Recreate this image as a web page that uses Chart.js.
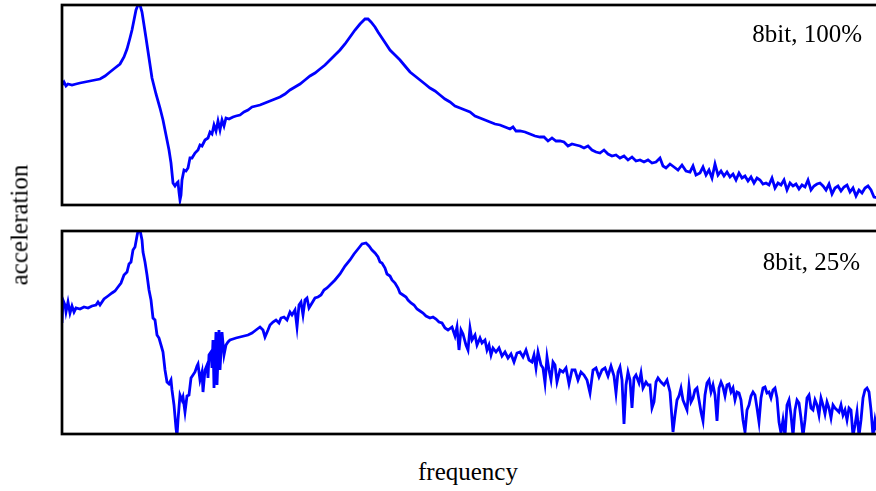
<!DOCTYPE html>
<html>
<head>
<meta charset="utf-8">
<script src="https://cdn.jsdelivr.net/npm/chart.js@4"></script>
<style>
  html, body { margin: 0; padding: 0; background: #fff; overflow: hidden; }
  body { width: 876px; height: 491px; position: relative; font-family: "Liberation Serif", "DejaVu Serif", serif; color: #000; }
  canvas { position: absolute; left: 0; }
  #topChart { top: 0; }
  #bottomChart { top: 220px; }
  .label { position: absolute; font-size: 25px; white-space: nowrap; line-height: 1; }
  #yLabel { left: 19px; top: 225px; transform: translate(-50%, -50%) rotate(-90deg); }
  #xLabel { left: 468px; top: 471px; transform: translate(-50%, -50%); }
  #tagTop { right: 14px; top: 21px; }
  #tagBottom { right: 16px; top: 249px; }
</style>
</head>
<body>
<canvas id="topChart" width="900" height="215"></canvas>
<canvas id="bottomChart" width="900" height="225"></canvas>
<div class="label" id="yLabel">acceleration</div>
<div class="label" id="xLabel">frequency</div>
<div class="label" id="tagTop">8bit, 100%</div>
<div class="label" id="tagBottom">8bit, 25%</div>

<script>
// 8bit, 100% spectrum
const freqFull = [0,2,4,6,10,14,18,23,28,33,38,43,48,53,58,62,65,68,70,72,74,76,78,80,82,84,87,90,94,98,101,104,107,109,111,113,115,116,117,118,119,120,122,124,126,128,130,133,136,138,140,143,146,148,150,152,154,156,158,160,162,164,167,171,174,178,182,186,190,194,198,203,208,213,218,223,228,233,238,243,248,253,258,263,268,273,278,283,288,293,298,303,306,309,313,316,320,324,328,333,338,343,348,353,358,363,368,373,378,383,388,393,398,403,408,413,418,423,428,433,438,443,448,451,454,458,463,468,473,478,482,486,490,494,498,502,506,510,514,518,522,526,530,534,538,542,546,550,554,558,562,566,570,574,578,582,586,590,594,598,601,604,608,612,616,620,624,628,631,634,638,641,644,647,650,653,656,659,662,665,668,671,674,677,680,683,686,689,692,695,698,701,704,707,710,713,716,719,722,725,728,731,734,737,740,743,746,749,752,755,758,761,764,767,770,773,776,779,782,785,788,791,794,797,800,803,806,809,812,816];
const accFull = [120,123,119,121,120,121,122,123,124,125,126,129,133,137,141,148,156,167,175,185,195,200,200,193,180,167,147,127,111,97,85,70,55,42,22,19,22,23,13,5,10,25,35,34,37,47,47,52,55,60,59,65,67,73,71,80,74,84,75,85,79,87,86,88,89,90,93,95,98,99,100,102,104,106,108,111,115,118,121,125,129,132,136,140,145,150,155,161,168,175,181,186,186,183,178,173,167,161,155,150,145,139,133,129,125,121,117,114,110,106,103,99,97,95,93,89,87,85,83,81,80,78,76,78,74,74,73,71,69,68,68,64,67,64,64,63,59,61,60,59,57,59,55,53,52,55,51,49,50,47,49,45,48,44,45,43,45,42,43,47,39,37,41,38,35,40,34,33,39,30,32,38,30,35,27,41,30,34,29,33,28,31,25,32,27,29,24,28,22,27,25,21,22,20,27,17,22,20,25,15,22,19,21,16,20,18,25,15,19,21,22,19,15,21,11,17,19,14,18,20,13,17,9,15,12,17,19,15,8,7];

// 8bit, 25% spectrum
const freqQuarter = [0,1,3,4,6,8,10,12,14,18,22,26,30,34,36,38,42,46,50,53,56,59,62,65,67,69,71,73,75,76,78,80,81,83,85,87,89,91,93,95,97,99,101,103,105,107,109,110,112,114,115,116,118,120,121,123,125,127,129,131,133,135,136,138,140,141,143,145,146,147,149,150,151,152,154,155,157,158,160,162,164,166,168,171,174,178,182,186,190,194,198,201,203,206,208,211,214,217,219,222,225,228,230,233,235,237,239,241,243,245,247,250,253,256,259,262,265,268,273,278,283,288,292,296,300,304,307,310,313,316,318,320,323,325,328,330,333,336,338,341,344,346,349,352,355,358,361,364,368,371,374,377,380,383,386,390,393,395,397,399,401,404,406,408,410,413,415,418,420,423,425,427,429,431,434,437,440,443,446,449,452,455,458,461,464,467,470,472,474,476,479,481,483,485,487,489,491,493,495,498,501,504,507,510,513,516,519,522,525,528,531,534,537,540,543,546,549,552,554,556,558,560,562,564,566,568,570,572,574,577,579,581,584,586,588,590,592,594,596,599,602,605,608,611,613,615,617,619,621,623,625,627,629,631,633,635,637,639,641,643,645,647,649,651,653,655,657,659,661,663,665,667,669,671,673,675,677,679,681,683,685,687,689,691,693,695,697,699,701,703,705,707,709,711,713,715,717,719,721,723,725,727,729,731,733,735,737,739,741,743,745,747,749,751,753,755,757,759,761,763,765,767,769,771,773,775,777,779,781,783,785,787,789,791,793,795,797,799,801,803,805,807,809,811,813,816];
const accQuarter = [111,134,129,122,132,121,128,122,126,125,127,126,128,129,132,129,135,138,141,143,147,151,159,162,170,172,184,187,198,203,204,194,182,172,159,144,134,116,114,99,96,89,82,64,52,50,54,44,29,6,-2,14,39,34,37,22,38,39,56,59,62,68,70,54,62,42,64,69,56,79,82,66,94,46,102,49,104,64,102,79,89,92,94,95,96,97,98,99,101,104,107,104,97,104,109,112,114,111,116,117,114,122,119,124,107,129,132,119,134,136,126,131,136,137,139,144,146,149,154,160,168,174,180,185,190,191,188,184,181,177,172,171,166,160,158,154,151,146,141,139,137,134,131,129,125,123,121,118,116,117,115,112,111,106,104,107,98,107,84,104,100,89,84,106,94,99,89,96,91,94,84,89,79,86,82,86,78,82,76,80,72,81,82,77,84,74,72,79,66,82,69,66,51,77,64,54,72,69,52,64,62,66,50,64,64,54,62,59,54,41,64,66,57,64,66,58,68,58,41,62,67,54,10,49,62,54,26,56,59,51,61,46,52,49,49,26,32,52,56,52,49,54,42,2,19,34,38,46,34,29,24,48,32,36,44,46,34,22,13,39,51,54,42,49,39,13,46,52,47,38,49,50,42,46,34,42,41,34,14,2,24,29,38,42,39,26,12,36,46,47,41,42,36,44,46,36,12,1,14,-2,29,34,19,-2,24,34,31,16,-2,14,36,39,26,24,34,29,19,36,29,20,32,26,16,29,26,24,22,29,19,24,14,26,24,-2,9,22,-2,14,36,44,46,42,24,-2,14,-2];

const toPoints = (freq, acc) => freq.map((f, i) => ({ x: f, y: acc[i] }));

// black box round the plot area
const framePlugin = {
    id: 'frame',
    afterDatasetsDraw(chart) {
        const { ctx, chartArea: a } = chart;
        ctx.save();
        ctx.strokeStyle = '#000';
        ctx.lineWidth = 2.7;
        ctx.strokeRect(a.left, a.top, a.right - a.left, a.bottom - a.top);
        ctx.restore();
    }
};

function drawPanel(id, points, yMax, padding) {
    const ctx = document.getElementById(id).getContext('2d');
    return new Chart(ctx, {
        type: 'line',
        data: {
            datasets: [{
                data: points,
                borderColor: '#0000ff',
                borderWidth: 2.8,
                pointRadius: 0,
                tension: 0,
                fill: false
            }]
        },
        options: {
            responsive: false,
            animation: false,
            layout: { padding: padding },
            plugins: { legend: { display: false }, tooltip: { enabled: false } },
            scales: {
                x: { type: 'linear', min: 0, max: 816, display: false },
                y: { min: 0, max: yMax, display: false }
            }
        },
        plugins: [framePlugin]
    });
}

drawPanel('topChart', toPoints(freqFull, accFull), 200, { left: 62, top: 5, right: 22, bottom: 10 });
drawPanel('bottomChart', toPoints(freqQuarter, accQuarter), 203, { left: 62, top: 11, right: 22, bottom: 11 });
</script>
</body>
</html>
